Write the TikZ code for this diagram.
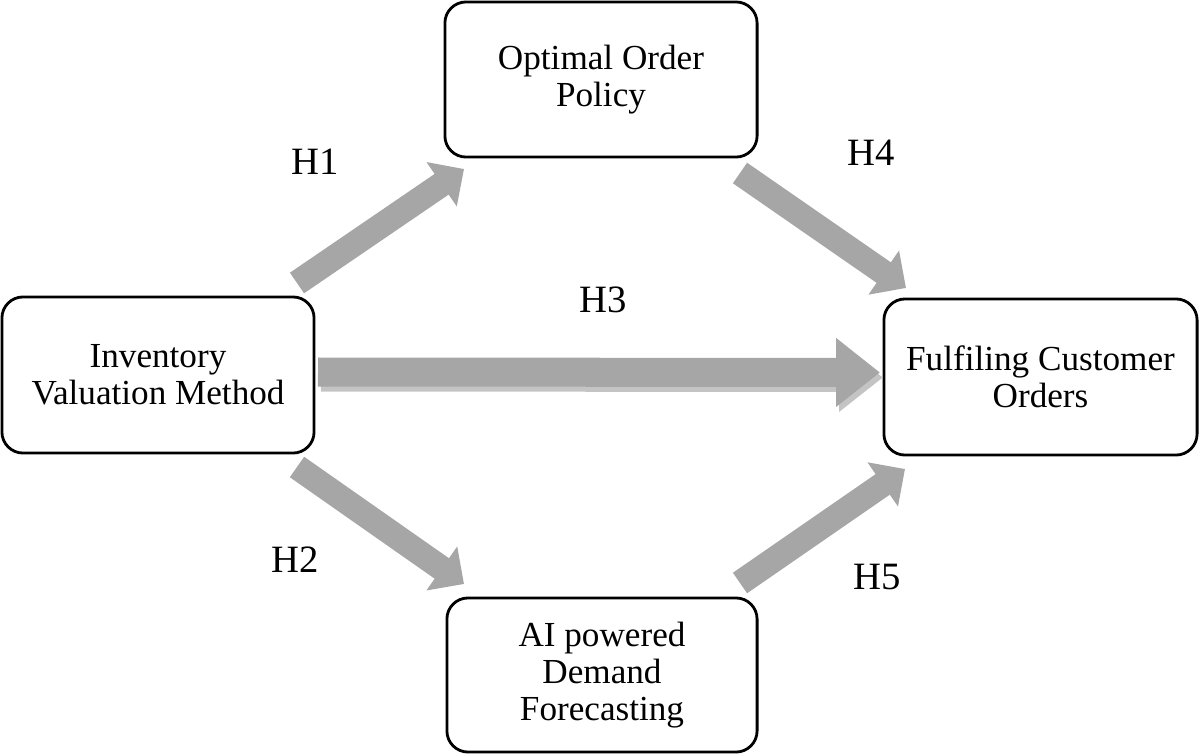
\documentclass[tikz,border=0pt]{standalone}
\usepackage{fontspec}
\setmainfont{Liberation Serif}
\usetikzlibrary{arrows.meta}
\definecolor{arrgray}{HTML}{A6A6A6}
\definecolor{shadgray}{HTML}{C4C4C4}
\tikzset{
  box/.style={draw=black, line width=0.8pt, rounded corners=6pt, fill=white,
    align=center, font=\fontsize{10}{10.6}\selectfont, inner sep=0pt},
  blk/.style={draw=arrgray, line width=7.1pt, -{Triangle[width=14.8pt,length=7.7pt]}},
  bigblk/.style={line width=8.25pt, -{Triangle[width=18.8pt,length=12.5pt]}},
  hlab/.style={font=\fontsize{11}{12}\selectfont}
}
\begin{document}
\begin{tikzpicture}[x=0.01cm,y=-0.01cm]
\useasboundingbox (0,0) rectangle (1199,754);
\node[box, minimum width=3.12cm, minimum height=1.55cm] (opt) at (601,79.5) {Optimal Order\\Policy};
\node[box, minimum width=3.12cm, minimum height=1.56cm] (inv) at (158,375) {Inventory\\Valuation Method};
\node[box, minimum width=3.13cm, minimum height=1.56cm] (ful) at (1040.5,377) {Fulfiling Customer\\Orders};
\node[box, minimum width=3.10cm, minimum height=1.54cm] (ai) at (602,675) {AI powered\\Demand\\Forecasting};
% arrow end coordinates
\coordinate (h1s) at (297,283);
\coordinate (h1e) at (464,169);
\coordinate (h4s) at (740,173);
\coordinate (h4e) at (906,288);
\coordinate (h2s) at (297,467);
\coordinate (h2e) at (464,584);
\coordinate (h5s) at (740,583);
\coordinate (h5e) at (905,469);
\coordinate (h3s) at (318,372);
\coordinate (h3e) at (880,372.5);
\draw[blk] (h1s) -- (h1e);
\draw[blk] (h4s) -- (h4e);
\draw[blk] (h2s) -- (h2e);
\draw[blk] (h5s) -- (h5e);
% H3 with shadow
\draw[bigblk, draw=shadgray] ([xshift=0.03cm,yshift=-0.05cm]h3s) -- ([xshift=0.03cm,yshift=-0.05cm]h3e);
\draw[bigblk, draw=arrgray] (h3s) -- (h3e);
\node[hlab] (l1) at (315,162) {H1};
\node[hlab] (l4) at (871,153) {H4};
\node[hlab] (l3) at (603,300) {H3};
\node[hlab] (l2) at (295,560) {H2};
\node[hlab] (l5) at (877,577) {H5};
\end{tikzpicture}
\end{document}
